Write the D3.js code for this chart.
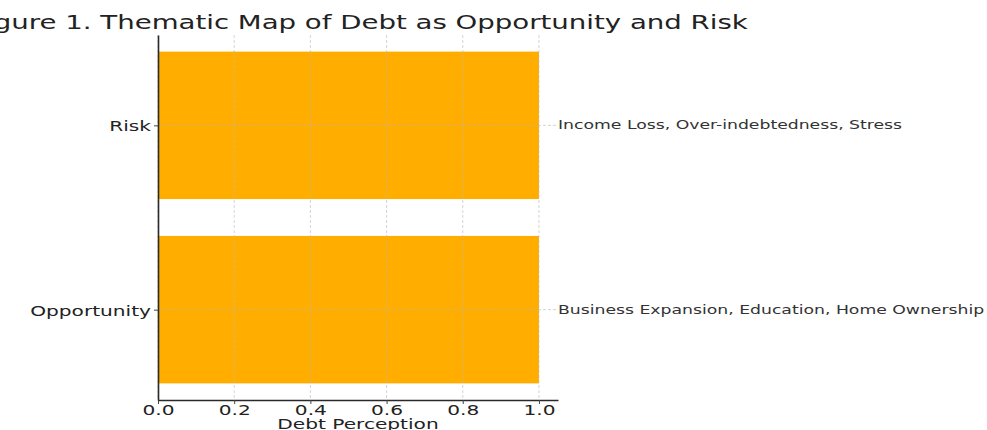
<!DOCTYPE html>
<html>
<head>
<meta charset="utf-8">
<script src="https://cdn.jsdelivr.net/npm/d3@7"></script>
<style>
	body { margin: 0; background: #fff; }
	text { font-family: "DejaVu Sans", sans-serif; fill: #222; }
</style>
</head>
<body>
<div id="chart"></div>
<script>
// data
var categories = ['Opportunity', 'Risk'];
var values = [1, 1];
var notes = ['Business Expansion, Education, Home Ownership', 'Income Loss, Over-indebtedness, Stress'];
var xTicks = [0, 0.2, 0.4, 0.6, 0.8, 1.0];
var titleText = 'Figure 1. Thematic Map of Debt as Opportunity and Risk';
var xLabel = 'Debt Perception';

var width = 987, height = 430;
// the reference picture is stretched sideways, so text gets widened too
var sx = 1.38;

var margin = { top: 35, right: 429, bottom: 30, left: 158 };
var innerWidth = width - margin.left - margin.right,
	innerHeight = height - margin.top - margin.bottom;

var svg = d3.select('#chart')
	.append('svg')
		.attr('width', width)
		.attr('height', height);

var g = svg.append('g')
	.attr('transform', `translate(${margin.left},${margin.top})`);

let x = d3.scaleLinear()
	.domain([0, 1.05])
	.range([0, innerWidth]);

let y = d3.scaleLinear()
	.domain([-0.49, 1.49])
	.range([innerHeight, 0]);

var barH = y(0) - y(0.8);

// bars
g.selectAll('rect.bar')
	.data(categories)
	.enter()
	.append('rect')
		.attr('class', 'bar')
		.attr('x', x(0))
		.attr('y', (d, i) => y(i) - barH / 2)
		.attr('width', (d, i) => x(values[i]) - x(0))
		.attr('height', barH)
		.style('fill', '#ffae00');

// grid (drawn over the bars)
var grid = g.append('g').attr('class', 'grid');
grid.selectAll('line.vg')
	.data(xTicks)
	.enter()
	.append('line')
		.attr('x1', d => x(d)).attr('x2', d => x(d))
		.attr('y1', 0).attr('y2', innerHeight)
		.style('stroke', '#b8b8b8')
		.style('stroke-opacity', 0.6)
		.style('stroke-dasharray', '3,2');
grid.selectAll('line.hg')
	.data(categories)
	.enter()
	.append('line')
		.attr('x1', 0).attr('x2', innerWidth)
		.attr('y1', (d, i) => y(i)).attr('y2', (d, i) => y(i))
		.style('stroke', '#b8b8b8')
		.style('stroke-opacity', 0.6)
		.style('stroke-dasharray', '3,2');

// axes
var xAxis = g.append('g')
	.attr('transform', `translate(0,${innerHeight})`)
	.call(d3.axisBottom(x).tickValues(xTicks).tickFormat(d3.format('.1f')).tickSize(4).tickSizeOuter(0));
var yAxis = g.append('g')
	.call(d3.axisLeft(y).tickValues([0, 1]).tickFormat((d) => categories[d]).tickSize(4).tickSizeOuter(0));

[xAxis, yAxis].forEach(function(a){
	a.select('.domain').style('stroke', '#2a2a2a').style('stroke-width', 1.6);
	a.selectAll('.tick line').style('stroke', '#444');
	a.selectAll('.tick text')
		.style('font-family', '"DejaVu Sans", sans-serif')
		.style('font-size', '14.6px')
		.style('fill', '#222');
});
xAxis.selectAll('.tick text')
	.attr('y', 0)
	.attr('dy', 0)
	.attr('transform', `translate(0,15) scale(${sx},1)`);
yAxis.selectAll('.tick text')
	.attr('x', 0)
	.attr('dy', 0)
	.attr('transform', `translate(-7,5.5) scale(${sx},1)`);

// notes at right edge of axes
g.selectAll('text.note')
	.data(notes)
	.enter()
	.append('text')
		.attr('class', 'note')
		.attr('transform', (d, i) => `translate(${innerWidth},${y(i) + 4}) scale(${sx},1)`)
		.style('font-size', '12.5px')
		.style('fill', '#333')
		.text(d => d);

// axis label
g.append('text')
	.attr('transform', `translate(${innerWidth / 2},${innerHeight + 29}) scale(${sx},1)`)
	.attr('text-anchor', 'middle')
	.style('font-size', '14.6px')
	.text(xLabel);

// title
g.append('text')
	.attr('transform', `translate(${innerWidth / 2 + 2},-6) scale(${sx},1)`)
	.attr('text-anchor', 'middle')
	.style('font-size', '20px')
	.text(titleText);
</script>
</body>
</html>
